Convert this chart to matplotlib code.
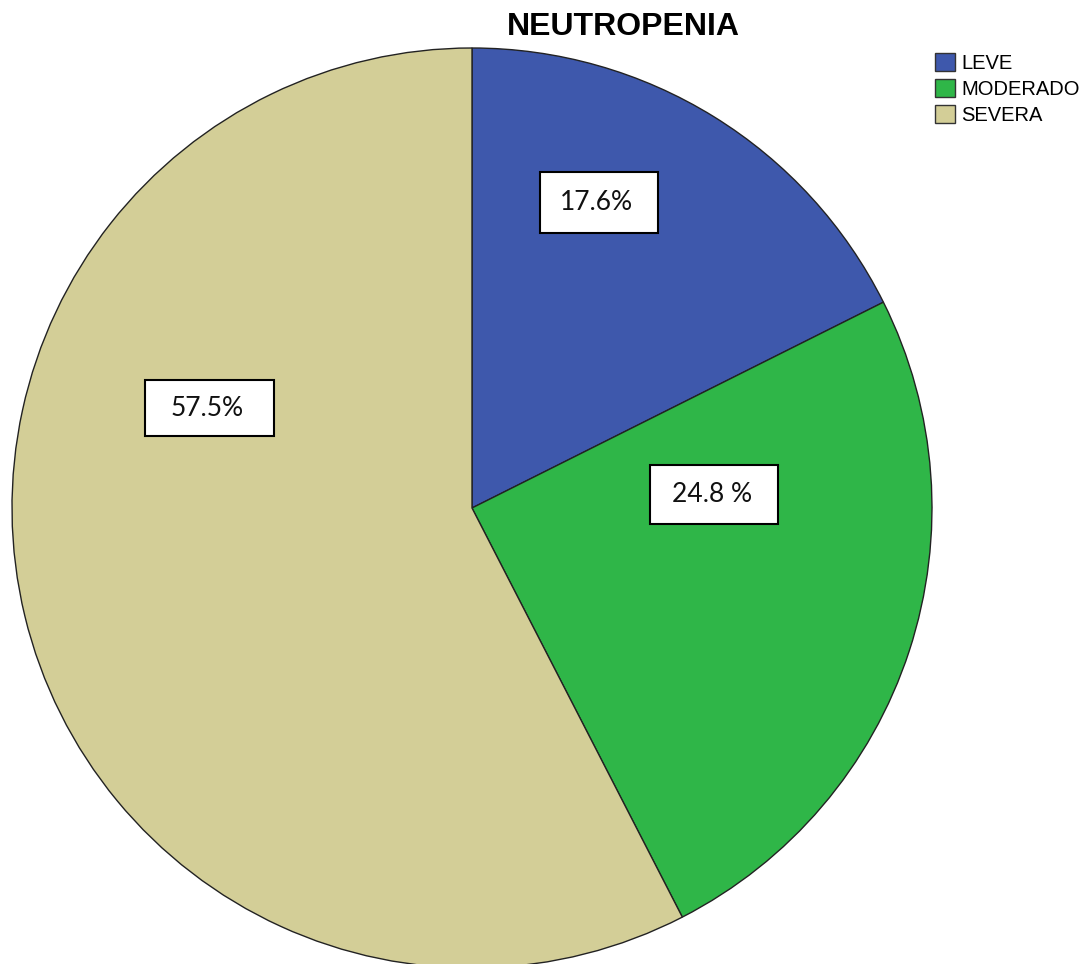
import matplotlib
matplotlib.use("Agg")
import matplotlib.pyplot as plt
from matplotlib.patches import Rectangle, Patch

categories = ["LEVE", "MODERADO", "SEVERA"]
values = [17.6, 24.8, 57.5]
label_texts = ["17.6%", "24.8 %", "57.5%"]
colors = ["#3E58AC", "#2FB648", "#D3CE97"]

# label box centers and sizes (pie radius units)
label_pos = [(0.276, 0.664), (0.526, 0.029), (-0.571, 0.217)]
label_size = [(0.257, 0.133), (0.278, 0.128), (0.280, 0.122)]

W, H = 1091, 964
fig = plt.figure(figsize=(W / 100, H / 100), dpi=100)
fig.patch.set_facecolor("white")

cx, cy, R = 472, 508, 460
ax = fig.add_axes([(cx - R) / W, (H - cy - R) / H, 2 * R / W, 2 * R / H])
ax.pie(values, colors=colors, startangle=90, counterclock=False, radius=1,
       wedgeprops=dict(edgecolor="#222222", linewidth=1.0))
ax.set_xlim(-1, 1)
ax.set_ylim(-1, 1)
ax.set_aspect("equal", adjustable="box")
ax.axis("off")

for (x, y), (w, h), t in zip(label_pos, label_size, label_texts):
    ax.add_patch(Rectangle((x - w / 2, y - h / 2), w, h, facecolor="white",
                           edgecolor="black", linewidth=1.5, zorder=5))
    ax.text(x - 0.005, y, t, ha="center", va="center", fontsize=19,
            family=["Lato", "DejaVu Sans"], color="#111111", zorder=6)

fig.text(623 / W, 1 - 27 / H, "NEUTROPENIA", ha="center", va="center",
         fontsize=23, fontweight="bold", family=["Liberation Sans", "DejaVu Sans"])

handles = [Patch(facecolor=c, edgecolor="#333333", linewidth=1.0) for c in colors]
leg = fig.legend(handles, categories, loc="upper left",
                 bbox_to_anchor=(935 / W, 1 - 53 / H), frameon=False,
                 prop=dict(family=["Liberation Sans", "DejaVu Sans"], size=14.5),
                 handlelength=1.0, handleheight=1.0, handletextpad=0.3,
                 labelspacing=0.3, borderpad=0, borderaxespad=0)

fig.savefig("out.png", dpi=100)
